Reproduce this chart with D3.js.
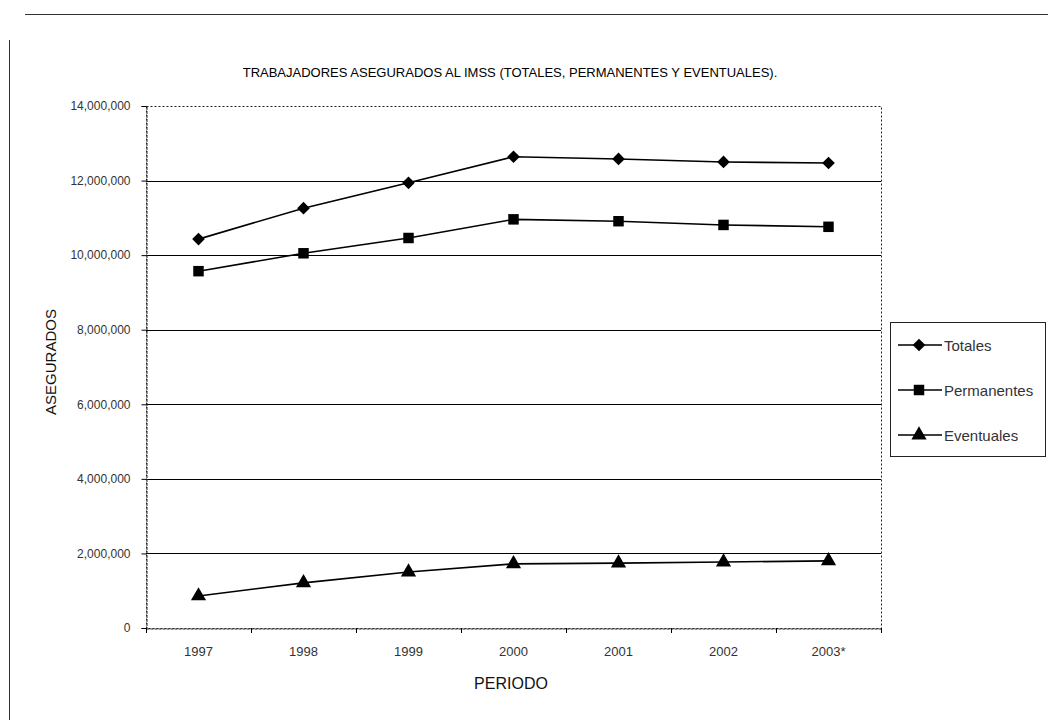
<!DOCTYPE html>
<html>
<head>
<meta charset="utf-8">
<script src="https://cdn.jsdelivr.net/npm/d3@7"></script>
<style>
  body { margin: 0; background: #fff; }
  text { font-family: "Liberation Sans", Arial, sans-serif; fill: #111; }
</style>
</head>
<body>
<div class="chart"></div>
<script>
var svgWidth = 1048;
var svgHeight = 720;

// data
var periods = ["1997", "1998", "1999", "2000", "2001", "2002", "2003*"];
var totales = [10430000, 11260000, 11940000, 12640000, 12580000, 12500000, 12470000];
var permanentes = [9570000, 10050000, 10460000, 10960000, 10910000, 10810000, 10760000];
var eventuales = [860000, 1210000, 1500000, 1720000, 1740000, 1770000, 1800000];
var yTicks = [0, 2000000, 4000000, 6000000, 8000000, 10000000, 12000000, 14000000];

var seriesNames = ["Totales", "Permanentes", "Eventuales"];
var seriesValues = [totales, permanentes, eventuales];

// wide diamond like the spreadsheet marker (a square turned 45 degrees)
var wideDiamond = {
  draw: function (context, size) {
    var r = Math.sqrt(size / 2);
    context.moveTo(0, -r);
    context.lineTo(r, 0);
    context.lineTo(0, r);
    context.lineTo(-r, 0);
    context.closePath();
  }
};
var seriesSymbols = [wideDiamond, d3.symbolSquare, d3.symbolTriangle];
var symbolSizes = [80, 110, 100];

var margin = { top: 106, left: 146 };
var width = 735;
var height = 522;

var svg = d3.select(".chart")
  .append("svg")
  .attr("width", svgWidth)
  .attr("height", svgHeight);

// page frame lines (edges of the scanned page)
svg.append("line")
  .attr("x1", 25).attr("x2", 1048).attr("y1", 14.5).attr("y2", 14.5)
  .attr("stroke", "#333").attr("stroke-width", 1);
svg.append("line")
  .attr("x1", 9.5).attr("x2", 9.5).attr("y1", 40).attr("y2", 720)
  .attr("stroke", "#333").attr("stroke-width", 1);

var chartGroup = svg.append("g")
  .attr("transform", `translate(${margin.left}, ${margin.top})`);

var xScale = d3.scaleBand()
  .domain(periods)
  .range([0, width]);

var yScale = d3.scaleLinear()
  .domain([0, 14000000])
  .range([height, 0]);

// gridlines
chartGroup.selectAll(".grid")
  .data(yTicks.filter(d => d > 0 && d < 14000000))
  .enter().append("line")
  .attr("class", "grid")
  .attr("x1", 0).attr("x2", width)
  .attr("y1", d => Math.round(yScale(d)) + 0.5)
  .attr("y2", d => Math.round(yScale(d)) + 0.5)
  .attr("stroke", "#000")
  .attr("stroke-width", 1);

// dotted plot border
chartGroup.append("rect")
  .attr("x", 0.5).attr("y", 0.5)
  .attr("width", width).attr("height", height)
  .attr("fill", "none")
  .attr("stroke", "#222")
  .attr("stroke-width", 1)
  .attr("stroke-dasharray", "2,2");

// y axis
var leftAxis = d3.axisLeft(yScale)
  .tickValues(yTicks)
  .tickSize(5)
  .tickPadding(11)
  .tickFormat(d3.format(","));

var yAxis = chartGroup.append("g")
  .attr("transform", "translate(0.5,0)")
  .call(leftAxis);
yAxis.select(".domain").attr("stroke-dasharray", "3,1").attr("stroke", "#222");
yAxis.selectAll(".tick text").attr("font-size", "12px").style("fill", "#333");

// x axis, ticks go on the category boundaries
var bottomAxis = d3.axisBottom(xScale).tickSize(0).tickPadding(18);
var xAxis = chartGroup.append("g")
  .attr("transform", `translate(0, ${height + 0.5})`)
  .call(bottomAxis);
xAxis.select(".domain").attr("stroke", "#222").attr("stroke-dasharray", "3,1");
xAxis.selectAll(".tick text").attr("font-size", "13px").style("fill", "#333");

chartGroup.selectAll(".xtick")
  .data(d3.range(periods.length + 1))
  .enter().append("line")
  .attr("class", "xtick")
  .attr("x1", i => Math.round(i * xScale.step()) + 0.5)
  .attr("x2", i => Math.round(i * xScale.step()) + 0.5)
  .attr("y1", height)
  .attr("y2", height + 5)
  .attr("stroke", "#000");

// series lines and markers
var line = d3.line()
  .x((d, i) => xScale(periods[i]) + xScale.bandwidth() / 2)
  .y(d => yScale(d));

seriesValues.forEach(function (vals, s) {
  chartGroup.append("path")
    .datum(vals)
    .attr("d", line)
    .attr("fill", "none")
    .attr("stroke", "#000")
    .attr("stroke-width", 1.6);

  chartGroup.selectAll(".pt" + s)
    .data(vals)
    .enter().append("path")
    .attr("class", "pt" + s)
    .attr("transform", (d, i) => `translate(${xScale(periods[i]) + xScale.bandwidth() / 2}, ${yScale(d)})`)
    .attr("d", d3.symbol().type(seriesSymbols[s]).size(symbolSizes[s]))
    .attr("fill", "#000");
});

// title
svg.append("text")
  .attr("x", 510)
  .attr("y", 77)
  .attr("text-anchor", "middle")
  .attr("font-size", "13px")
  .style("fill", "#000")
  .text("TRABAJADORES ASEGURADOS AL IMSS (TOTALES, PERMANENTES Y EVENTUALES).");

// axis titles
svg.append("text")
  .attr("transform", "translate(56, 362) rotate(-90)")
  .attr("text-anchor", "middle")
  .attr("font-size", "15px")
  .text("ASEGURADOS");

svg.append("text")
  .attr("x", 511)
  .attr("y", 689)
  .attr("text-anchor", "middle")
  .attr("font-size", "16px")
  .text("PERIODO");

// legend
var legend = svg.append("g").attr("transform", "translate(890, 322)");
legend.append("rect")
  .attr("x", 0.5).attr("y", 0.5)
  .attr("width", 155).attr("height", 134)
  .attr("fill", "#fff")
  .attr("stroke", "#222");

var legendItems = legend.selectAll(".item")
  .data(seriesNames)
  .enter().append("g")
  .attr("class", "item")
  .attr("transform", (d, i) => `translate(0, ${23 + i * 45})`);

legendItems.append("line")
  .attr("x1", 8).attr("x2", 52)
  .attr("stroke", "#000").attr("stroke-width", 1.5);

legendItems.append("path")
  .attr("transform", "translate(29, 0)")
  .attr("d", (d, i) => d3.symbol().type(seriesSymbols[i]).size(symbolSizes[i])())
  .attr("fill", "#000");

legendItems.append("text")
  .attr("x", 54)
  .attr("y", 6)
  .attr("font-size", "15px")
  .style("fill", "#333")
  .text(d => d);
</script>
</body>
</html>
